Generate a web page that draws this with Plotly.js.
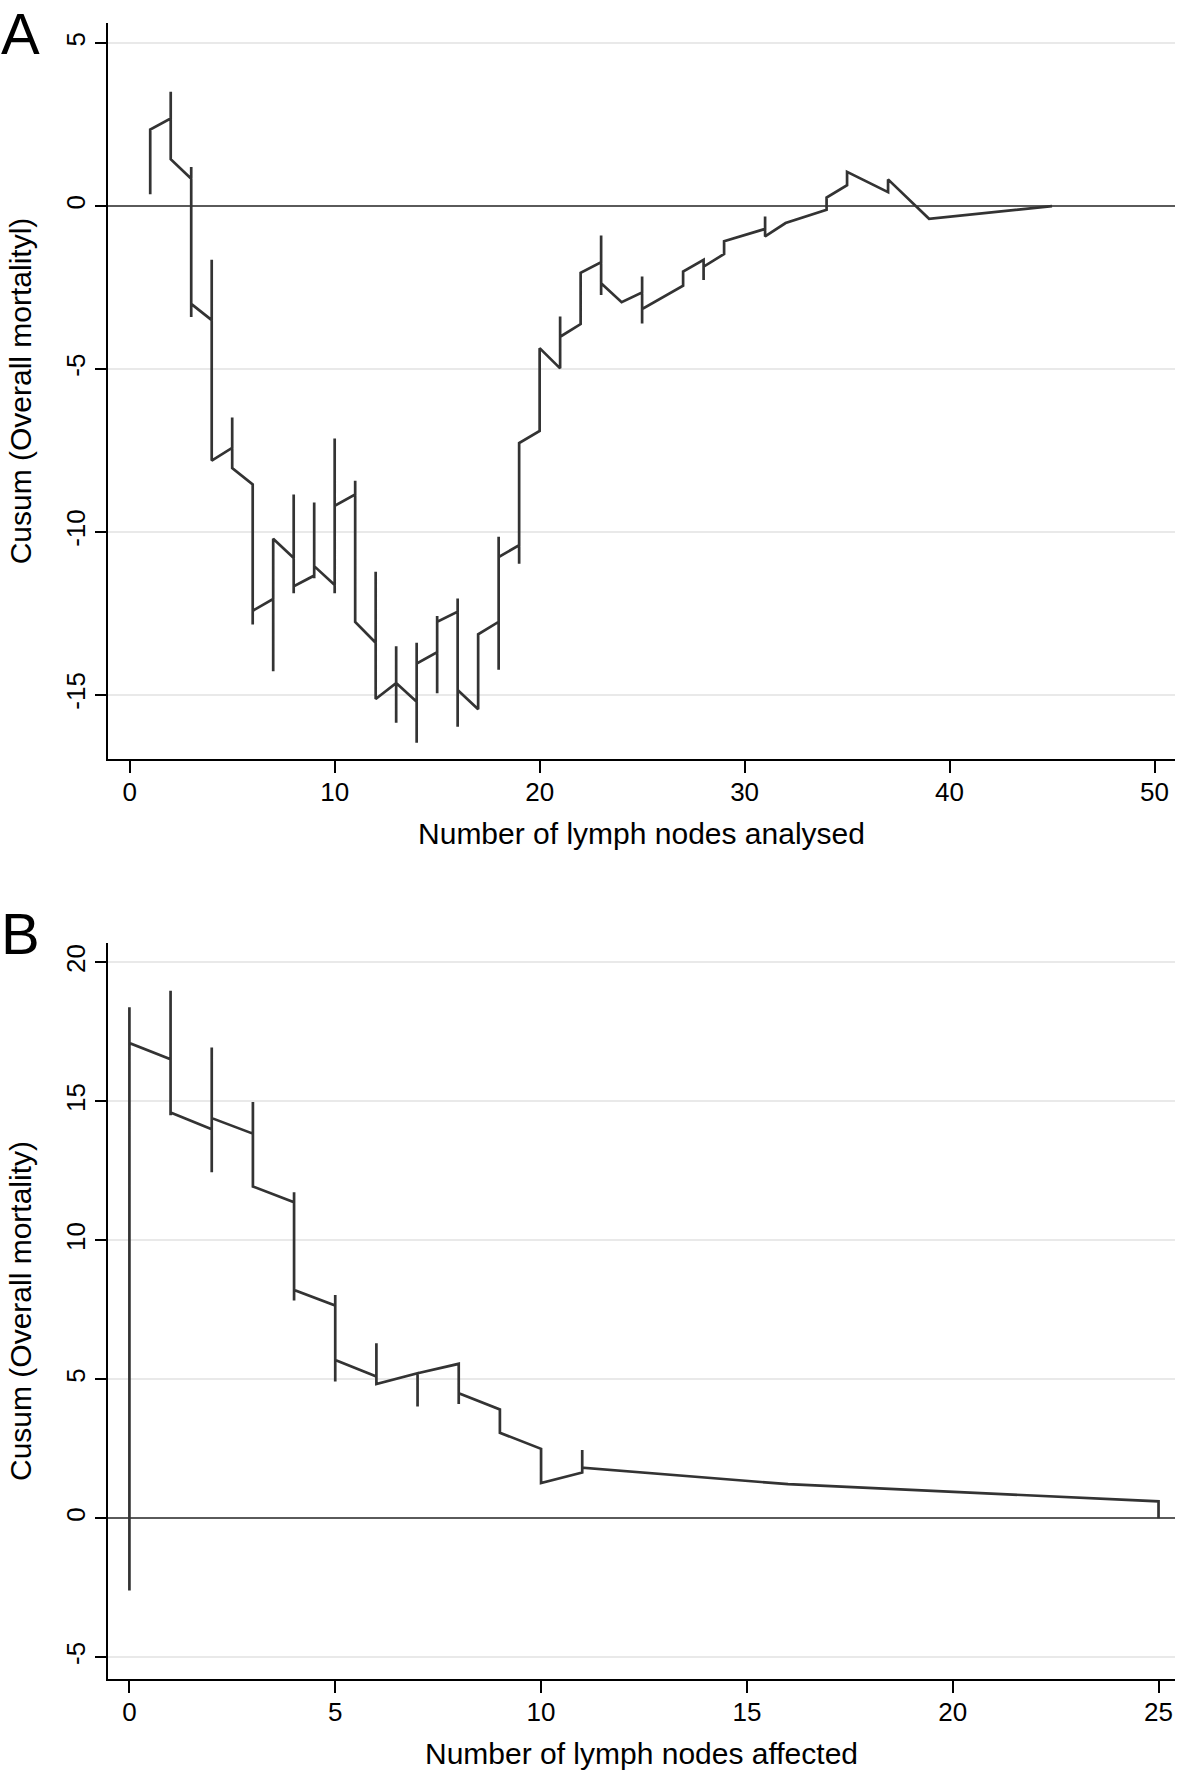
<!DOCTYPE html>
<html>
<head>
<meta charset="utf-8">
<script src="https://cdn.plot.ly/plotly-3.0.1.min.js"></script>
<style>
html,body{margin:0;padding:0;background:#fff;}
#chart{width:1181px;height:1770px;}
</style>
</head>
<body>
<div id="chart"></div>
<script>
// ---------- Panel A: lymph nodes analysed ----------
// For each distinct x value: entry value, highest value, lowest value, exit value of the cusum path
const nodesAnalysed = [1, 2, 3, 4, 5, 6, 7, 8, 9, 10, 11, 12, 13, 14, 15, 16, 17, 18, 19, 20, 21, 22, 23, 24, 25, 27, 28, 29, 31, 32, 34, 35, 37, 39, 45];
const entryA = [0.36, 2.69, 0.84, -3.50, -7.42, -8.54, -12.06, -10.80, -11.34, -11.63, -8.85, -13.40, -14.64, -15.21, -13.69, -12.45, -15.44, -12.76, -10.41, -6.90, -4.98, -3.62, -1.72, -2.95, -2.65, -2.44, -1.65, -1.47, -0.70, -0.52, -0.11, 0.64, 0.43, -0.39, 0.00];
const highA  = [2.35, 3.51, 1.20, -1.65, -6.49, -8.54, -10.21, -8.85, -9.10, -7.13, -8.43, -11.22, -13.51, -13.40, -12.58, -12.04, -13.14, -10.15, -7.27, -4.36, -3.39, -2.05, -0.90, -2.95, -2.16, -2.01, -1.65, -1.08, -0.32, -0.52, 0.26, 1.05, 0.82, -0.39, 0.00];
const lowA   = [0.36, 1.44, -3.40, -7.81, -8.04, -12.84, -14.28, -11.88, -11.42, -11.88, -12.76, -15.13, -15.86, -16.47, -14.95, -15.98, -15.44, -14.23, -10.98, -6.90, -4.98, -3.62, -2.73, -2.95, -3.60, -2.44, -2.27, -1.47, -0.93, -0.52, -0.11, 0.64, 0.43, -0.39, 0.00];
const exitA  = [2.35, 1.44, -3.00, -7.81, -8.04, -12.42, -10.21, -11.67, -11.05, -9.20, -12.76, -15.13, -14.64, -14.04, -12.76, -14.85, -13.14, -10.77, -7.27, -4.36, -4.01, -2.05, -2.37, -2.95, -3.16, -2.01, -1.86, -1.08, -0.93, -0.52, 0.26, 1.05, 0.82, -0.39, 0.00];

// ---------- Panel B: lymph nodes affected ----------
const nodesAffected = [0, 1, 2, 3, 4, 5, 6, 7, 8, 9, 10, 11, 16, 25];
const entryB = [-2.60, 16.52, 14.00, 13.84, 11.37, 7.66, 5.10, 5.22, 5.56, 3.92, 2.50, 1.65, 1.23, 0.61];
const highB  = [18.39, 18.98, 16.94, 14.98, 11.73, 8.04, 6.30, 5.22, 5.56, 3.92, 2.50, 2.46, 1.23, 0.61];
const lowB   = [-2.60, 14.50, 12.45, 11.94, 7.84, 4.92, 4.83, 4.02, 4.11, 3.08, 1.27, 1.63, 1.23, 0.00];
const exitB  = [17.10, 14.60, 14.40, 11.94, 8.22, 5.70, 4.83, 5.22, 4.50, 3.08, 1.27, 1.82, 1.23, 0.00];

const yTicksA = [-15, -10, -5, 0, 5];
const yTicksB = [-5, 0, 5, 10, 15, 20];
const xTicksA = [0, 10, 20, 30, 40, 50];
const xTicksB = [0, 5, 10, 15, 20, 25];

function buildPath(xs, en, hi, lo, ex) {
  const px = [], py = [];
  for (let i = 0; i < xs.length; i++) {
    const seq = [en[i], hi[i], lo[i], ex[i]];
    for (const v of seq) { px.push(xs[i]); py.push(v); }
  }
  return {x: px, y: py};
}

const pA = buildPath(nodesAnalysed, entryA, highA, lowA, exitA);
const pB = buildPath(nodesAffected, entryB, highB, lowB, exitB);

const FONT = 'Liberation Sans, Arial, sans-serif';
const lineStyle = {color: '#333333', width: 2.7};

const traces = [
  {x: pA.x, y: pA.y, type: 'scatter', mode: 'lines', line: lineStyle, xaxis: 'x', yaxis: 'y', hoverinfo: 'skip', showlegend: false},
  {x: pB.x, y: pB.y, type: 'scatter', mode: 'lines', line: lineStyle, xaxis: 'x2', yaxis: 'y2', hoverinfo: 'skip', showlegend: false}
];

const W = 1181, H = 1770;
const xDom = [108 / W, 1175 / W];
const yDomA = [1 - 759 / H, 1 - 23 / H];
const yDomB = [1 - 1679 / H, 1 - 943 / H];

function xAxis(ticks, range, title, anchor) {
  return {
    domain: xDom, range: range, anchor: anchor,
    tickmode: 'array', tickvals: ticks, ticktext: ticks.map(String),
    ticks: 'outside', ticklen: 12, tickwidth: 2, tickcolor: '#000',
    ticklabelstandoff: -3,
    showline: true, linecolor: '#000', linewidth: 2,
    showgrid: false, zeroline: false,
    tickfont: {family: FONT, size: 26, color: '#000'},
    title: {text: title, font: {family: FONT, size: 30, color: '#000'}, standoff: 17}
  };
}
function yAxis(ticks, range, title, anchor) {
  return {
    domain: anchor === 'x' ? yDomA : yDomB, range: range, anchor: anchor,
    tickmode: 'array', tickvals: ticks, ticktext: ticks.map(String),
    tickangle: -90,
    ticks: 'outside', ticklen: 11, tickwidth: 2, tickcolor: '#000',
    showline: true, linecolor: '#000', linewidth: 2,
    showgrid: true, gridcolor: '#e9e9e9', gridwidth: 2,
    zeroline: true, zerolinecolor: '#5a5a5a', zerolinewidth: 2,
    tickfont: {family: FONT, size: 26, color: '#000'},
    title: {text: title, font: {family: FONT, size: 30, color: '#000'}, standoff: 20}
  };
}

const layout = {
  width: W, height: H,
  margin: {l: 0, r: 0, t: 0, b: 0, pad: 0},
  paper_bgcolor: '#fff', plot_bgcolor: '#fff',
  showlegend: false,
  xaxis: xAxis(xTicksA, [-1.06, 51.0], 'Number of lymph nodes analysed', 'y'),
  yaxis: yAxis(yTicksA, [-16.97, 5.62], 'Cusum (Overall mortalityl)', 'x'),
  xaxis2: xAxis(xTicksB, [-0.52, 25.4], 'Number of lymph nodes affected', 'y2'),
  yaxis2: yAxis(yTicksB, [-5.78, 20.7], 'Cusum (Overall mortality)', 'x2'),
  annotations: [
    {text: 'A', xref: 'paper', yref: 'paper', x: 0, y: 1, xanchor: 'left', yanchor: 'top', showarrow: false,
     borderpad: 0, yshift: 0, font: {family: FONT, size: 58, color: '#000'}},
    {text: 'B', xref: 'paper', yref: 'paper', x: 0, y: 1 - 910 / H, xanchor: 'left', yanchor: 'top', showarrow: false,
     borderpad: 0, yshift: 10, font: {family: FONT, size: 58, color: '#000'}}
  ]
};

Plotly.newPlot('chart', traces, layout, {staticPlot: true, displayModeBar: false});
</script>
</body>
</html>
